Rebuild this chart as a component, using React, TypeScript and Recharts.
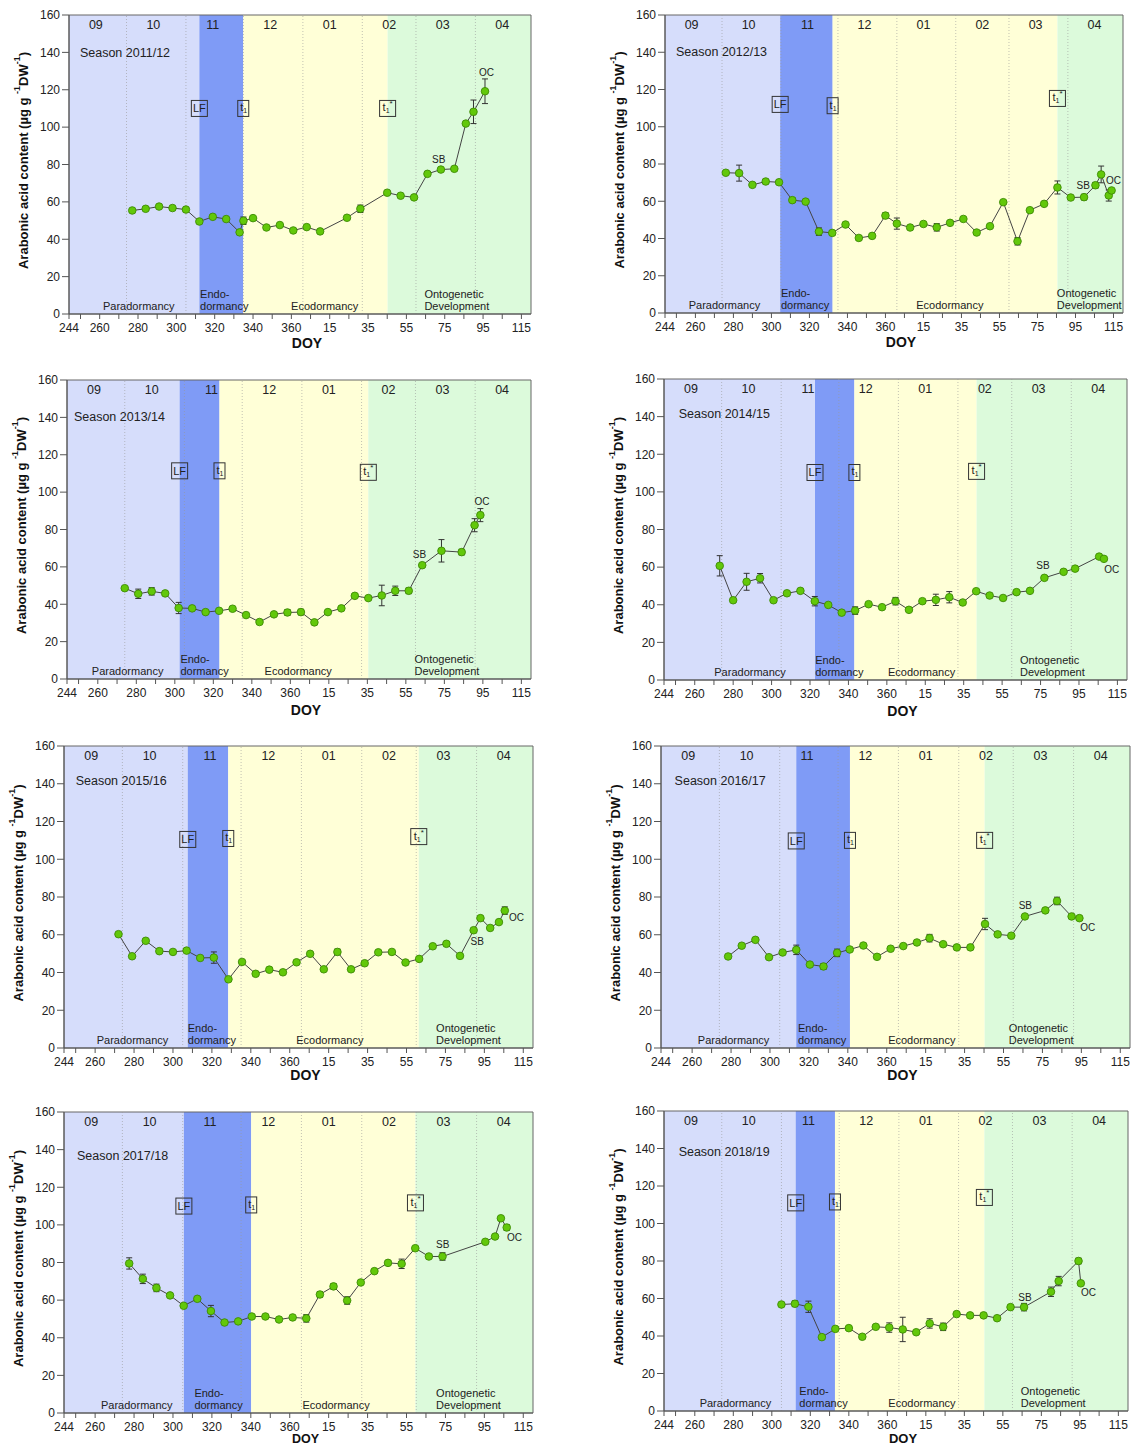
import React from 'react';
import { ComposedChart, Line, XAxis, YAxis, ReferenceArea, ReferenceLine, ReferenceDot, ErrorBar } from 'recharts';

const FONT = '"Liberation Sans", Arial, Helvetica, sans-serif';
const TXT = '#222';

// ---------- axis / label data ----------
const seasonNames = ['Season 2011/12', 'Season 2012/13', 'Season 2013/14', 'Season 2014/15', 'Season 2015/16', 'Season 2016/17', 'Season 2017/18', 'Season 2018/19'];
const monthLabels = ['09', '10', '11', '12', '01', '02', '03', '04'];
const monthMidDoy = [258, 288, 319, 349, 380, 411, 439, 470];
const monthStartDoy = [274, 305, 335, 366, 397, 425, 456];
const xTicks = [244, 250, 260, 270, 280, 290, 300, 310, 320, 330, 340, 350, 360, 370, 380, 390, 400, 410, 420, 430, 440, 450, 460, 470, 480];
const xTickLabels = [244, 260, 280, 300, 320, 340, 360, 380, 400, 420, 440, 460, 480];
const yTicks = [0, 20, 40, 60, 80, 100, 120, 140, 160];

// ---------- phase boundaries (DOY, continued past 365) ----------
const leafFall = [312, 304.6, 302.5, 322.6, 307.6, 313.5, 305.6, 312.4];
const t1 = [334.9, 332.2, 323.2, 343.1, 328.4, 341.1, 340.2, 332.8];
const t1Star = [410.2, 450.5, 400.5, 406.7, 426.3, 410.3, 424.6, 410.4];
const lfBoxY = [110, 112, 111.4, 110.3, 110.5, 109.7, 110, 111];
const t1BoxY = [110, 111.3, 111.4, 110.3, 111, 110, 110.6, 111.5];
const t1StarBoxY = [110, 115.2, 110.6, 110.9, 112, 110, 111.7, 113.9];

// ---------- season series ----------
const doy1 = [277, 284, 291, 298, 305, 312, 319, 326, 333, 335, 340, 347, 354, 361, 368, 375, 389, 396, 410, 417, 424, 431, 438, 445, 451, 455, 461];
const val1 = [55.4, 56.3, 57.5, 56.7, 55.9, 49.5, 52.0, 50.8, 43.7, 49.9, 51.3, 46.3, 47.6, 44.7, 46.5, 44.2, 51.5, 56.3, 64.9, 63.3, 62.4, 75.0, 77.3, 77.7, 101.9, 108.2, 119.2];
const err1 = [0, 0, 0, 0, 0, 0, 0, 0, 0, 2, 0, 0, 0, 0, 0, 0, 0, 2, 0, 0, 0, 0, 0, 0, 0, 6.3, 6.6];

const doy2 = [276, 283, 290, 297, 304, 311, 318, 325, 332, 339, 346, 353, 360, 366, 373, 380, 387, 394, 401, 408, 415, 422, 429.5, 436, 443.5, 450.5, 457.5, 464.5, 470.5, 473.5, 477.5, 479];
const val2 = [75.3, 75.1, 68.8, 70.6, 70.2, 60.6, 59.8, 43.7, 43.0, 47.5, 40.3, 41.4, 52.3, 48.0, 45.9, 47.8, 46.0, 48.4, 50.5, 43.2, 46.6, 59.5, 38.5, 55.2, 58.6, 67.4, 62.0, 62.2, 68.6, 74.4, 63.1, 65.8];
const err2 = [0, 4.3, 0, 1.2, 1.2, 1.2, 0, 2, 1.2, 0, 1.2, 0, 1.5, 3, 0, 0, 2, 0, 0, 0, 0, 0, 2, 0, 0, 3.5, 0, 1.5, 1.5, 4.5, 3, 0];

const doy3 = [274, 281, 288, 295, 302, 309, 316, 323, 330, 337, 344, 351.5, 358.5, 365.5, 372.5, 379.5, 386.5, 393.5, 400.5, 407.5, 414.5, 421.5, 428.5, 438.5, 449, 455.7, 458.7];
const val3 = [48.6, 45.6, 46.9, 45.8, 38.0, 37.8, 35.8, 36.5, 37.6, 34.2, 30.5, 34.6, 35.6, 35.8, 30.3, 35.8, 37.8, 44.5, 43.3, 44.7, 47.2, 47.2, 60.9, 68.6, 67.9, 82.3, 87.7];
const err3 = [0, 2.5, 2, 0, 3, 0, 0, 0, 0, 0, 0, 0, 1.5, 1.5, 0, 0, 0, 1, 0, 5.5, 2.5, 1.5, 0, 6, 1.5, 3.5, 3.5];

const doy4 = [273, 280, 287, 294, 301, 308, 315, 322.5, 329.5, 336.5, 343.5, 350.5, 357.5, 364.5, 371.5, 378.5, 385.5, 392.5, 399.5, 406.5, 413.5, 420.5, 427.5, 434.5, 442, 452, 458, 470.5, 473];
const val4 = [60.7, 42.4, 52.2, 54.1, 42.4, 46.1, 47.4, 41.9, 39.9, 35.8, 36.9, 40.3, 38.7, 41.9, 37.3, 41.9, 42.6, 44.0, 41.2, 47.2, 44.9, 43.6, 46.7, 47.4, 54.3, 57.5, 59.2, 65.6, 64.4];
const err4 = [5.4, 0, 4.5, 2.5, 0, 0, 0, 2.5, 0, 0, 2, 0, 0, 2, 0, 0, 3, 3, 0, 0, 0, 0, 0, 0, 0, 0, 0, 0, 0];

const doy5 = [272, 279, 286, 293, 300, 307, 314, 321, 328.5, 335.5, 342.5, 349.5, 356.5, 363.5, 370.5, 377.5, 384.5, 391.5, 398.5, 405.5, 412.5, 419.5, 426.5, 433.5, 440.5, 447.5, 454.5, 458, 463, 467.5, 470.5];
const val5 = [60.3, 48.6, 56.8, 51.3, 50.9, 51.6, 47.7, 47.9, 36.4, 45.6, 39.3, 41.5, 40.1, 45.4, 49.9, 41.7, 50.9, 41.7, 44.9, 50.7, 50.9, 45.3, 47.2, 53.9, 55.2, 48.8, 62.4, 68.8, 63.6, 66.7, 72.8];
const err5 = [0, 0, 0, 0, 0, 0, 0, 3, 0, 0, 1, 0, 0, 1, 0, 0, 1.5, 0, 0, 1, 0, 0, 0, 0, 0, 0, 0, 0, 0, 0, 2];

const doy6 = [278.5, 285.5, 292.5, 299.5, 306.5, 313.5, 320.5, 327.5, 334.5, 341, 348, 355, 362, 368.5, 375.5, 382, 389, 396, 403, 410.5, 417, 424, 431, 441.5, 447.5, 455, 459];
const val6 = [48.5, 54.2, 57.3, 48.1, 50.6, 52.0, 44.2, 43.2, 50.4, 52.2, 54.3, 48.3, 52.6, 54.0, 55.9, 58.2, 55.0, 53.3, 53.3, 65.7, 60.2, 59.5, 69.7, 72.9, 77.9, 69.7, 68.8];
const err6 = [0, 0, 0, 0, 0, 2.5, 0, 1.5, 2, 0, 0, 0, 0, 0, 0, 2, 0, 0, 0, 3, 0, 0, 0, 0, 2, 0, 0];

const doy7 = [277.5, 284.5, 291.5, 298.5, 305.5, 312.5, 319.5, 326.5, 333.5, 340.5, 347.5, 354.5, 361.5, 368.5, 375.5, 382.5, 389.5, 396.5, 403.5, 410.5, 417.5, 424.5, 431.5, 438.5, 460.5, 465.5, 468.5, 471.5];
const val7 = [79.5, 71.3, 66.5, 62.5, 57.0, 60.7, 54.2, 48.1, 48.7, 51.3, 51.3, 49.7, 50.8, 50.3, 63.0, 67.3, 59.8, 69.4, 75.4, 79.8, 79.3, 87.6, 83.2, 83.2, 91.0, 93.8, 103.5, 98.6];
const err7 = [3, 2.5, 2, 0, 0, 0, 3, 0, 0, 0, 0, 0, 0, 2, 1.5, 1.5, 2, 0, 0, 0, 2.5, 0, 0, 2, 0, 0, 0, 1.5];

const doy8 = [305, 312, 319, 326, 333, 340, 347, 354, 361, 368, 375, 382, 389, 396, 403, 410, 417, 424, 431, 445, 449, 459.3, 460.5];
const val8 = [56.8, 57.2, 55.6, 39.4, 43.8, 44.2, 39.6, 44.9, 44.5, 43.5, 42.0, 46.7, 44.9, 51.7, 51.0, 51.0, 49.5, 55.4, 55.4, 63.6, 69.3, 80.0, 68.1];
const err8 = [0, 1.5, 3, 0, 0, 0, 0, 0, 2.5, 6.5, 0, 2.5, 2, 0, 0, 0, 0, 0, 2, 2.5, 2.5, 1.5, 0];

const allDoy = [doy1, doy2, doy3, doy4, doy5, doy6, doy7, doy8];
const allVal = [val1, val2, val3, val4, val5, val6, val7, val8];
const allErr = [err1, err2, err3, err4, err5, err6, err7, err8];

// ---------- annotation anchors (DOY, value) ----------
const sbPos = [[436.9, 82.5], [464.1, 68.6], [427.1, 66.8], [441.3, 60.7], [456.3, 56.6], [431.2, 75.6], [438.6, 89.7], [431.5, 60.8]];
const ocPos = [[461.8, 129.4], [480, 71.3], [459.6, 95], [477, 58.5], [476.5, 69.1], [463.3, 64.1], [475.5, 93.5], [464.5, 63.3]];

// ---------- layout (page pixels of each plot area: left, top, right, bottom) ----------
const plotRects = [
  [69, 15, 531, 314], [665, 15, 1123, 313],
  [67, 380, 531, 679], [664, 379, 1127, 680],
  [64, 746, 533, 1048], [661, 746, 1130, 1048],
  [64, 1112, 533, 1413], [664, 1111, 1128, 1411],
];
const doyLabelDy = [29, 29, 31, 31, 27, 27, 25.5, 27];
const doyLabelSize = [14, 14, 14, 14, 14, 14, 12.5, 13];
const seasonLabelX = [249.7, 249.8, 247.6, 251.7, 250, 251, 250.7, 251.6];
const seasonLabelY = [139.6, 139.9, 140, 141.4, 141.4, 141.6, 136.8, 137.9];
const paraLabelX = [280.4, 275.3, 275.5, 288.8, 279.2, 281.3, 281.4, 281.1];
const ecoLabelX = [377.4, 393.9, 364.1, 378.1, 380.6, 378, 383.8, 378];
const endoLabelX = [312.4, 305, 302.9, 322.7, 307.6, 314.4, 311, 314.3];
const ontoLabelX = [429.4, 450.2, 424.5, 429.3, 435.2, 422.7, 435.2, 429.3];

const PARA = '#d6ddfb';
const ENDO = '#7f9bf6';
const ECO = '#ffffd7';
const ONTO = '#dcfadb';

const textShape = (label: string, anchor: string, size: number, extra: any = {}) => (p: any) => (
  <text x={p.cx} y={p.cy} textAnchor={anchor} dominantBaseline="central" fontSize={size} fontFamily={FONT} fill={TXT} {...extra}>{label}</text>
);

const boxShape = (kind: string) => (p: any) => {
  const { cx, cy } = p;
  const w = kind === 'LF' ? 16 : kind === 't1' ? 11 : 16;
  const h = 16;
  return (
    <g>
      <rect x={cx - w / 2} y={cy - h / 2} width={w} height={h} fill="none" stroke="#333" strokeWidth={1} />
      {kind === 'LF' ? (
        <text x={cx} y={cy + 4} textAnchor="middle" fontSize={11} fontFamily={FONT} fill={TXT}>LF</text>
      ) : (
        <text x={kind === 't1' ? cx - 3 : cx - 5} y={cy + 3} textAnchor="start" fontSize={11} fontFamily={FONT} fill={TXT}>
          t<tspan fontSize={7} dy={2}>1</tspan>
          {kind === 't1s' ? <tspan fontSize={8} dy={-7}>*</tspan> : null}
        </text>
      )}
    </g>
  );
};

const XTick = (props: any) => {
  const { x, y, payload } = props;
  const v = payload.value;
  if (!xTickLabels.includes(v)) return <g />;
  return (
    <text x={x} y={y + 7} textAnchor="middle" dominantBaseline="central" fontSize={12} fontFamily={FONT} fill={TXT}>
      {v > 365 ? v - 365 : v}
    </text>
  );
};

const makeDoyLabel = (dy: number, size: number) => (props: any) => {
  const vb = props.viewBox || {};
  return (
    <text x={vb.x + vb.width / 2 + 7} y={vb.y + dy} textAnchor="middle" dominantBaseline="central" fontSize={size} fontWeight="bold" fontFamily={FONT} fill="#111">DOY</text>
  );
};

const YLabel = (props: any) => {
  const vb = props.viewBox || {};
  const cx = vb.x + 18;
  const cy = vb.y + vb.height / 2 - 4;
  return (
    <text transform={`rotate(-90 ${cx} ${cy})`} x={cx} y={cy} textAnchor="middle" dominantBaseline="central" fontSize={13} fontWeight="bold" fontFamily={FONT} fill="#111">
      Arabonic acid content (µg g <tspan fontSize={9} dy={-6}>-1</tspan><tspan dy={6}>DW</tspan><tspan fontSize={9} dy={-6}>-1</tspan><tspan dy={6}>)</tspan>
    </text>
  );
};

function Panel({ idx }: { idx: number }) {
  const [L, T, R, B] = plotRects[idx];
  const yAxisW = 64;
  const top = 10;
  const right = 6;
  const xAxisH = Math.min(40, 1445 - B);
  const width = yAxisW + (R - L) + right;
  const height = top + (B - T) + xAxisH;
  const data = allDoy[idx].map((d, i) => ({ x: d, v: allVal[idx][i], e: allErr[idx][i] }));
  const lf = leafFall[idx];
  const tt = t1[idx];
  const ts = t1Star[idx];
  return (
    <div style={{ position: 'absolute', left: L - yAxisW, top: T - top }}>
      <ComposedChart width={width} height={height} data={data} margin={{ top, right, bottom: 0, left: 0 }}>
        <XAxis type="number" dataKey="x" domain={[244, 485]} allowDataOverflow ticks={xTicks} interval={0} tick={<XTick />} tickSize={5} height={xAxisH} stroke="#555" label={{ content: makeDoyLabel(doyLabelDy[idx], doyLabelSize[idx]) }} />
        <YAxis type="number" domain={[0, 160]} allowDataOverflow ticks={yTicks} interval={0} width={yAxisW} tickSize={7} stroke="#555" tick={{ fontSize: 12, fill: TXT, fontFamily: FONT }} label={{ content: YLabel }} />
        <ReferenceArea x1={244} x2={lf} fill={PARA} fillOpacity={1} stroke="none" />
        <ReferenceArea x1={lf} x2={tt} fill={ENDO} fillOpacity={1} stroke="none" />
        <ReferenceArea x1={tt} x2={ts} fill={ECO} fillOpacity={1} stroke="none" />
        <ReferenceArea x1={ts} x2={485} fill={ONTO} fillOpacity={1} stroke="none" />
        <ReferenceArea x1={244} x2={485} fill="none" fillOpacity={0} stroke="#666" strokeWidth={1} />
        {monthStartDoy.map((d) => (
          <ReferenceLine key={'m' + d} x={d} stroke="#9a9a9a" strokeOpacity={0.6} strokeDasharray="1 2" />
        ))}
        {monthLabels.map((m, i) => (
          <ReferenceDot key={'ml' + i} x={monthMidDoy[i]} y={154.5} r={0} shape={textShape(m, 'middle', 12.5)} />
        ))}
        <ReferenceDot x={seasonLabelX[idx]} y={seasonLabelY[idx]} r={0} shape={textShape(seasonNames[idx], 'start', 12.5)} />
        <ReferenceDot x={lf} y={lfBoxY[idx]} r={0} shape={boxShape('LF')} />
        <ReferenceDot x={tt} y={t1BoxY[idx]} r={0} shape={boxShape('t1')} />
        <ReferenceDot x={ts} y={t1StarBoxY[idx]} r={0} shape={boxShape('t1s')} />
        <ReferenceDot x={paraLabelX[idx]} y={4.5} r={0} shape={textShape('Paradormancy', 'middle', 11)} />
        <ReferenceDot x={endoLabelX[idx]} y={10.8} r={0} shape={textShape('Endo-', 'start', 11)} />
        <ReferenceDot x={endoLabelX[idx]} y={4.3} r={0} shape={textShape('dormancy', 'start', 11)} />
        <ReferenceDot x={ecoLabelX[idx]} y={4.5} r={0} shape={textShape('Ecodormancy', 'middle', 11)} />
        <ReferenceDot x={ontoLabelX[idx]} y={10.8} r={0} shape={textShape('Ontogenetic', 'start', 11)} />
        <ReferenceDot x={ontoLabelX[idx]} y={4.4} r={0} shape={textShape('Development', 'start', 11)} />
        <Line type="linear" dataKey="v" stroke="#444" strokeWidth={1} isAnimationActive={false}
          dot={{ r: 3.8, fill: '#62c80a', stroke: '#3d8a05', strokeWidth: 0.9 }} activeDot={false}>
          <ErrorBar dataKey="e" width={3} stroke="#333" strokeWidth={1} direction="y" isAnimationActive={false} />
        </Line>
        <ReferenceDot x={sbPos[idx][0]} y={sbPos[idx][1]} r={0} shape={textShape('SB', 'middle', 10)} />
        <ReferenceDot x={ocPos[idx][0]} y={ocPos[idx][1]} r={0} shape={textShape('OC', 'middle', 10)} />
      </ComposedChart>
    </div>
  );
}

export default function App() {
  return (
    <div style={{ position: 'absolute', left: 0, top: 0, width: 1132, height: 1445, overflow: 'hidden', background: '#fff' }}>
      {plotRects.map((_, i) => (
        <Panel key={i} idx={i} />
      ))}
    </div>
  );
}
